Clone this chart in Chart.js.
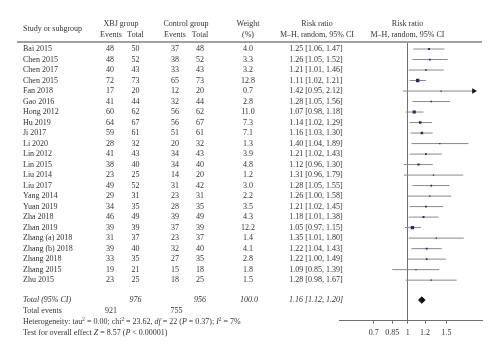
<!DOCTYPE html>
<html>
<head>
<meta charset="utf-8">
<script src="https://cdn.jsdelivr.net/npm/chart.js@4/dist/chart.umd.min.js"></script>
<style>
html,body{margin:0;padding:0;background:#fff;}
canvas{display:block;}
</style>
</head>
<body>
<canvas id="c" width="500" height="357"></canvas>
<script>
// ---------------- data ----------------
const studies = ["Bai 2015","Chen 2015","Chen 2017","Chen 2015","Fan 2018","Gao 2016","Hong 2012","Hu 2019","Ji 2017","Li 2020","Lin 2012","Lin 2015","Liu 2014","Liu 2017","Yang 2014","Yuan 2019","Zha 2018","Zhan 2019","Zhang (a) 2018","Zhang (b) 2018","Zhang 2018","Zhang 2015","Zhu 2015"];
const xbjEvents  = [48,48,40,72,17,41,60,64,59,28,41,38,23,49,29,34,46,39,31,39,33,19,23];
const xbjTotal   = [50,52,43,73,20,44,62,67,61,32,43,40,25,52,31,35,49,39,37,40,35,21,25];
const ctrlEvents = [37,38,33,65,12,32,56,56,51,20,34,34,14,31,23,28,39,37,23,32,27,15,18];
const ctrlTotal  = [48,52,43,73,20,44,62,67,61,32,43,40,20,42,31,35,49,39,37,40,35,18,25];
const weights    = [4.0,3.3,3.2,12.8,0.7,2.8,11.0,7.3,7.1,1.3,3.9,4.8,1.2,3.0,2.2,3.5,4.3,12.2,1.4,4.1,2.8,1.8,1.5];
const riskRatio  = [1.25,1.26,1.21,1.11,1.42,1.28,1.07,1.14,1.16,1.40,1.21,1.12,1.31,1.28,1.26,1.21,1.18,1.05,1.35,1.22,1.22,1.09,1.28];
const ciLower    = [1.06,1.05,1.01,1.02,0.95,1.05,0.98,1.02,1.03,1.04,1.02,0.96,0.96,1.05,1.00,1.02,1.01,0.97,1.01,1.04,1.00,0.85,0.98];
const ciUpper    = [1.47,1.52,1.46,1.21,2.12,1.56,1.18,1.29,1.30,1.89,1.43,1.30,1.79,1.55,1.58,1.45,1.38,1.15,1.80,1.43,1.49,1.39,1.67];
const pooled     = [1.16,1.12,1.20];   // RR, lower, upper
const totalN     = [976,956];          // XBJ, control
const totalEv    = [921,755];          // XBJ, control
const totalWeight = 100.0;
const xTickValues = [0.7,0.85,1,1.2,1.5];
const xTickLabels = ["0.7","0.85","1","1.2","1.5"];
const axisMin = 0.486, axisMax = 2.18, plotLimit = 2;

// ---------------- layout rows ----------------
const ROW_TOTAL = 23.9, ROW_EVENTS = 24.97, ROW_HET = 26.02, ROW_TEST = 27.04;
const ROW_H1 = -2.41, ROW_H2 = -1.36, ROW_HSTUDY = -1.9;

const TEXT = '#333';
const FONT = 'Liberation Serif, "Times New Roman", serif';

// ---------------- datasets ----------------
const ciData = [];
studies.forEach((s,i)=>{
  ciData.push({x: ciLower[i], y: i});
  ciData.push({x: Math.min(ciUpper[i], plotLimit), y: i});
  ciData.push({x: 1, y: null});
});
const arrowData = [];
studies.forEach((s,i)=>{ if (ciUpper[i] > plotLimit) arrowData.push({x: plotLimit, y: i}); });
const sqData = studies.map((s,i)=>({x: riskRatio[i], y: i}));
const sqRadius = weights.map(w => Math.max(1.3, 0.95*Math.sqrt(w)) / Math.SQRT2);
const dh = 0.31;
const diamond = [
  {x: pooled[1], y: ROW_TOTAL},
  {x: pooled[0], y: ROW_TOTAL - dh},
  {x: pooled[2], y: ROW_TOTAL},
  {x: pooled[0], y: ROW_TOTAL + dh},
  {x: pooled[1], y: ROW_TOTAL}
];

// ---------------- text plugin ----------------
function drawRich(ctx, x, y, segs, size){
  let cx = x;
  segs.forEach(([t, st])=>{
    let fs = size, dy = 0, style = '';
    if (st === 'i') style = 'italic ';
    if (st === 's') { fs = size*0.65; dy = -size*0.32; }
    ctx.font = style + fs + 'px ' + FONT;
    ctx.textAlign = 'left';
    ctx.fillText(t, cx, y + dy);
    cx += ctx.measureText(t).width;
  });
}

const tablePlugin = {
  id: 'table',
  beforeDraw(chart){
    const ctx = chart.ctx;
    ctx.save();
    ctx.fillStyle = '#fff';
    ctx.fillRect(0,0,chart.width,chart.height);
    ctx.restore();
  },
  afterDraw(chart){
    const ctx = chart.ctx;
    const ys = chart.scales.y;
    const Y = r => ys.getPixelForValue(r);
    ctx.save();
    ctx.fillStyle = TEXT;
    ctx.textBaseline = 'middle';
    const f = (st) => (st ? st + ' ' : '') + '8px ' + FONT;
    const put = (t, x, r, align, st) => { ctx.font = f(st); ctx.textAlign = align; ctx.fillText(t, x, Y(r)); };

    // header rule
    ctx.strokeStyle = '#a0a0a0';
    ctx.lineWidth = 2;
    ctx.beginPath();
    ctx.moveTo(17, chart.chartArea.top);
    ctx.lineTo(482, chart.chartArea.top);
    ctx.stroke();

    // headers
    put('Study or subgroup', 23, ROW_HSTUDY, 'left');
    put('XBJ group', 121, ROW_H1, 'center');
    put('Events', 111, ROW_H2, 'center');
    put('Total', 135.5, ROW_H2, 'center');
    put('Control group', 186, ROW_H1, 'center');
    put('Events', 175, ROW_H2, 'center');
    put('Total', 200, ROW_H2, 'center');
    put('Weight', 248, ROW_H1, 'center');
    put('(%)', 248, ROW_H2, 'center');
    put('Risk ratio', 317, ROW_H1, 'center');
    put('M\u2013H, random, 95% CI', 317, ROW_H2, 'center');
    put('Risk ratio', 407.5, ROW_H1, 'center');
    put('M\u2013H, random, 95% CI', 407.5, ROW_H2, 'center');

    // rows
    studies.forEach((s,i)=>{
      put(s, 23, i, 'left');
      put(String(xbjEvents[i]), 110, i, 'center');
      put(String(xbjTotal[i]), 135.5, i, 'center');
      put(String(ctrlEvents[i]), 175, i, 'center');
      put(String(ctrlTotal[i]), 200, i, 'center');
      put(weights[i].toFixed(1), 248, i, 'center');
      put(riskRatio[i].toFixed(2) + ' [' + ciLower[i].toFixed(2) + ', ' + ciUpper[i].toFixed(2) + ']', 316, i, 'center');
    });

    // totals
    put('Total (95% CI)', 23, ROW_TOTAL, 'left', 'italic');
    put(String(totalN[0]), 135.5, ROW_TOTAL, 'center', 'italic');
    put(String(totalN[1]), 200, ROW_TOTAL, 'center', 'italic');
    put(totalWeight.toFixed(1), 249, ROW_TOTAL, 'center', 'italic');
    put(pooled[0].toFixed(2) + ' [' + pooled[1].toFixed(2) + ', ' + pooled[2].toFixed(2) + ']', 316, ROW_TOTAL, 'center', 'italic');
    put('Total events', 23, ROW_EVENTS, 'left');
    put(String(totalEv[0]), 111, ROW_EVENTS, 'center');
    put(String(totalEv[1]), 176.5, ROW_EVENTS, 'center');

    drawRich(ctx, 23, Y(ROW_HET), [
      ['Heterogeneity: tau','n'],['2','s'],[' = 0.00; chi','n'],['2','s'],[' = 23.62, ','n'],
      ['df','i'],[' = 22 (','n'],['P','i'],[' = 0.37); ','n'],['I','i'],['2','s'],[' = 7%','n']
    ], 8);
    drawRich(ctx, 23, Y(ROW_TEST), [
      ['Test for overall effect ','n'],['Z','i'],[' = 8.57 (','n'],['P','i'],[' < 0.00001)','n']
    ], 8);
    ctx.restore();
  }
};

// ---------------- chart ----------------
new Chart(document.getElementById('c'), {
  type: 'scatter',
  data: {
    datasets: [
      { data: ciData, showLine: true, spanGaps: false, borderColor: '#8a8a8a', borderWidth: 1, pointRadius: 0, order: 3 },
      { data: arrowData, pointStyle: 'triangle', rotation: 90, pointRadius: 3.2, backgroundColor: '#111', borderColor: '#111', borderWidth: 0, order: 2 },
      { data: sqData, pointStyle: 'rect', pointRadius: sqRadius, backgroundColor: '#1f2a70', borderColor: '#1f2a70', borderWidth: 0, order: 1 },
      { type: 'line', data: diamond, fill: 'shape', backgroundColor: '#111', borderColor: '#111', borderWidth: 1, pointRadius: 0, tension: 0, order: 0 }
    ]
  },
  options: {
    responsive: false,
    animation: false,
    devicePixelRatio: 1,
    layout: { padding: { left: 339, right: 18, top: 42, bottom: 16.3 } },
    plugins: { legend: { display: false }, tooltip: { enabled: false } },
    scales: {
      x: {
        type: 'logarithmic',
        bounds: 'data',
        min: axisMin,
        max: axisMax,
        afterBuildTicks: (scale) => { scale.ticks = xTickValues.map(v => ({ value: v })); },
        afterFit: (scale) => { scale.height = 20; },
        ticks: {
          autoSkip: false, maxRotation: 0, padding: 4,
          color: TEXT, font: { family: FONT, size: 8 },
          callback: (v, i) => xTickLabels[i]
        },
        grid: {
          drawOnChartArea: true,
          color: (c) => (c.tick && c.tick.value === 1) ? '#707070' : 'rgba(0,0,0,0)',
          tickColor: '#707070', tickLength: 3, lineWidth: 1
        },
        border: { display: true, color: '#707070', width: 1 }
      },
      y: {
        type: 'linear', reverse: true, min: -0.667, max: 25.86, display: false
      }
    }
  },
  plugins: [tablePlugin]
});
</script>
</body>
</html>
